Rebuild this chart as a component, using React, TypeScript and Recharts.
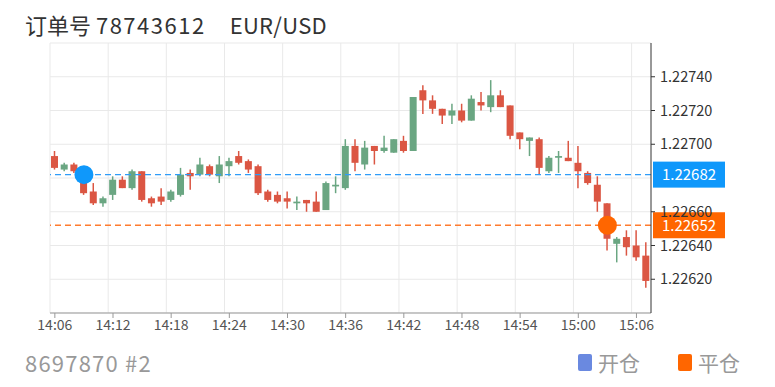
import React from "react"
import {
  ComposedChart,
  Bar,
  XAxis,
  YAxis,
  CartesianGrid,
  ReferenceLine,
  ReferenceDot
} from "recharts"

// one candle per minute, 14:06 .. 15:07
const OPEN = [
  1.22693, 1.22685, 1.22688, 1.22684, 1.22672, 1.22665, 1.2267, 1.22679, 1.22674, 1.22684,
  1.22668, 1.22669, 1.22667, 1.2267, 1.22683, 1.22682, 1.22687, 1.22681, 1.22687, 1.22693,
  1.2269, 1.22687, 1.22672, 1.2267, 1.22668, 1.22665, 1.22667, 1.22666, 1.22661, 1.22675,
  1.22674, 1.22699, 1.22688, 1.22699, 1.22696, 1.22695, 1.22702, 1.22696, 1.22732, 1.22726,
  1.22721, 1.22717, 1.2272, 1.22714, 1.22725, 1.22722, 1.22729, 1.22723, 1.22707, 1.22702,
  1.22703, 1.22684, 1.22692, 1.22692, 1.22689, 1.22683, 1.22676, 1.22665, 1.22641, 1.22645,
  1.2264, 1.22634
]
const CLOSE = [
  1.22686, 1.22688, 1.22684, 1.22671, 1.22665, 1.22668, 1.22679, 1.22674, 1.22684, 1.22667,
  1.22665, 1.22666, 1.22672, 1.22682, 1.22681, 1.22688, 1.22682, 1.22688, 1.2269, 1.22689,
  1.22685, 1.22671, 1.22667, 1.22666, 1.22666, 1.22666, 1.22665, 1.2266, 1.22677, 1.22676,
  1.22699, 1.22689, 1.22698, 1.22696, 1.22698, 1.22703, 1.22696, 1.22728, 1.22726, 1.22721,
  1.22717, 1.2272, 1.22714, 1.22727, 1.22723, 1.22729, 1.22722, 1.22705, 1.22703, 1.22704,
  1.22686, 1.22692, 1.22693, 1.2269, 1.22684, 1.22677, 1.22666, 1.22644, 1.22644, 1.22639,
  1.22633, 1.22619
]
const HIGH = [
  1.22696, 1.22689, 1.22689, 1.22686, 1.22677, 1.22669, 1.22681, 1.22681, 1.22685, 1.22684,
  1.22669, 1.22674, 1.22673, 1.22686, 1.22685, 1.22692, 1.22688, 1.22693, 1.22692, 1.22696,
  1.22691, 1.22688, 1.22673, 1.22672, 1.22672, 1.22669, 1.22667, 1.22672, 1.22678, 1.22681,
  1.22703, 1.22703, 1.22702, 1.22699, 1.22705, 1.22703, 1.22705, 1.22728, 1.22735, 1.22729,
  1.22721, 1.22724, 1.22724, 1.22729, 1.22731, 1.22738, 1.22732, 1.22723, 1.22707, 1.22704,
  1.22704, 1.22693, 1.22696, 1.22702, 1.22699, 1.22684, 1.22681, 1.22665, 1.22645, 1.22649,
  1.22649, 1.22642
]
const LOW = [
  1.22685, 1.22684, 1.22683, 1.2267, 1.22664, 1.22663, 1.22667, 1.22674, 1.22673, 1.22666,
  1.22663, 1.22664, 1.22666, 1.22669, 1.22673, 1.22681, 1.22681, 1.22677, 1.22681, 1.22688,
  1.22683, 1.2267, 1.22666, 1.22665, 1.22662, 1.22661, 1.2266, 1.2266, 1.22661, 1.22671,
  1.22673, 1.22684, 1.22685, 1.22688, 1.22695, 1.22695, 1.22695, 1.22696, 1.22718, 1.22718,
  1.22712, 1.22712, 1.22713, 1.22714, 1.2272, 1.22719, 1.22722, 1.22703, 1.22697, 1.22693,
  1.22682, 1.22683, 1.22683, 1.2269, 1.22674, 1.22676, 1.2266, 1.22637, 1.2263, 1.22634,
  1.22631, 1.22615
]

const TIME_TICKS = [0, 6, 12, 18, 24, 30, 36, 42, 48, 54, 60]
const TIME_LABELS = ["14:06", "14:12", "14:18", "14:24", "14:30", "14:36", "14:42", "14:48", "14:54", "15:00", "15:06"]
const GRID_X = [-0.5, 5.5, 11.5, 17.5, 23.5, 29.5, 35.5, 41.5, 47.5, 53.5, 59.5]
const PRICE_TICKS = [1.226, 1.2262, 1.2264, 1.2266, 1.2268, 1.227, 1.2272, 1.2274, 1.2276]
const HIDDEN_TICKS = [1.226, 1.2268, 1.2276]

const OPEN_PRICE = 1.22682
const OPEN_INDEX = 3
const CLOSE_PRICE = 1.22652
const CLOSE_INDEX = 57

const UP = "#6aa682"
const DOWN = "#db5643"
const BLUE = "#0f98fb"
const ORANGE = "#ff6600"
const FONT = "'Noto Sans CJK SC', 'Noto Sans', sans-serif"

const data = OPEN.map((o, i) => ({
  i,
  open: o,
  close: CLOSE[i],
  high: HIGH[i],
  low: LOW[i],
  range: [LOW[i], HIGH[i]]
}))

function Candle(props: any) {
  const { x, y, width, height, payload } = props
  const { open, close, high, low } = payload
  const top = Math.min(y, y + height)
  const h = Math.abs(height)
  const k = h / (high - low)
  const color = close >= open ? UP : DOWN
  const bodyTop = top + (high - Math.max(open, close)) * k
  const bodyH = Math.max(1.5, Math.abs(open - close) * k)
  const cx = x + width / 2
  return (
    <g>
      <line x1={cx} x2={cx} y1={top} y2={top + h} stroke={color} strokeWidth={1.5} />
      <rect x={x} y={bodyTop} width={width} height={bodyH} fill={color} />
    </g>
  )
}

function PriceTick(props: any) {
  const { x, y, payload } = props
  if (HIDDEN_TICKS.some(t => Math.abs(t - payload.value) < 1e-9)) return null
  return (
    <g>
      <line x1={x} x2={x + 4} y1={y} y2={y} stroke="#333" />
      <text x={x + 9} y={y} dy="0.35em" fontSize={14.5} fill="#333" fontFamily={FONT}>
        {Number(payload.value).toFixed(5)}
      </text>
    </g>
  )
}

function badge(color: string, value: number) {
  return (props: any) => {
    const vb = props.viewBox
    const left = vb.x + vb.width + 2
    return (
      <g>
        <rect x={left} y={vb.y - 13} width={72} height={26} fill={color} />
        <text x={left + 36} y={vb.y} dy="0.35em" textAnchor="middle" fontSize={15} fill="#fff" fontFamily={FONT}>
          {value.toFixed(5)}
        </text>
      </g>
    )
  }
}

export default function App() {
  return (
    <div style={{ position: "absolute", left: 0, top: 0, width: 775, height: 387, background: "#fff", fontFamily: FONT }}>
      <div style={{ position: "absolute", left: 25, top: 13, fontSize: 22, lineHeight: "22px", color: "#333", whiteSpace: "pre" }}>
        订单号 <span style={{ letterSpacing: 1.5 }}>78743612</span>
        <span style={{ marginLeft: 24, letterSpacing: 0.3 }}>EUR/USD</span>
      </div>

      <ComposedChart
        width={775}
        height={387}
        data={data}
        margin={{ top: 43, right: 24, bottom: 44, left: 50 }}
      >
        <CartesianGrid vertical={false} stroke="#e9e9e9" />
        {GRID_X.map(g => (
          <ReferenceLine key={g} x={g} stroke="#e9e9e9" />
        ))}
        <XAxis
          dataKey="i"
          type="number"
          domain={[-0.5, 61.5]}
          allowDataOverflow
          ticks={TIME_TICKS}
          tickFormatter={(v: number) => TIME_LABELS[TIME_TICKS.indexOf(v)]}
          height={30}
          tickSize={5}
          stroke="#999"
          tick={{ fill: "#555", fontSize: 14, fontFamily: FONT }}
        />
        <YAxis
          orientation="right"
          width={100}
          domain={[1.226, 1.2276]}
          allowDataOverflow
          ticks={PRICE_TICKS}
          interval={0}
          tickLine={false}
          tickSize={0}
          tickMargin={0}
          stroke="#333"
          tick={<PriceTick />}
        />
        <Bar dataKey="range" barSize={7} shape={<Candle />} isAnimationActive={false} />
        <ReferenceLine
          y={OPEN_PRICE}
          stroke="#2f9cf8"
          strokeWidth={1.3}
          strokeDasharray="6 4"
          label={badge(BLUE, OPEN_PRICE)}
        />
        <ReferenceLine
          y={CLOSE_PRICE}
          stroke="#ff7b2e"
          strokeWidth={1.3}
          strokeDasharray="6 4"
          label={badge(ORANGE, CLOSE_PRICE)}
        />
        <ReferenceDot x={OPEN_INDEX} y={OPEN_PRICE} r={9.5} fill={BLUE} stroke="none" />
        <ReferenceDot x={CLOSE_INDEX} y={CLOSE_PRICE} r={9.5} fill={ORANGE} stroke="none" />
      </ComposedChart>

      <div style={{ position: "absolute", left: 25, top: 351, fontSize: 22, lineHeight: "22px", color: "#999", letterSpacing: 1.2 }}>
        8697870 #2
      </div>
      <div style={{ position: "absolute", left: 578, top: 352, display: "flex", alignItems: "center", fontSize: 21, lineHeight: "21px", color: "#999" }}>
        <span style={{ display: "inline-block", width: 14, height: 17, borderRadius: 2, background: "#6a89e0", marginRight: 6 }} />
        <span>开仓</span>
        <span style={{ display: "inline-block", width: 14, height: 17, borderRadius: 2, background: ORANGE, marginLeft: 38, marginRight: 6 }} />
        <span>平仓</span>
      </div>
    </div>
  )
}
